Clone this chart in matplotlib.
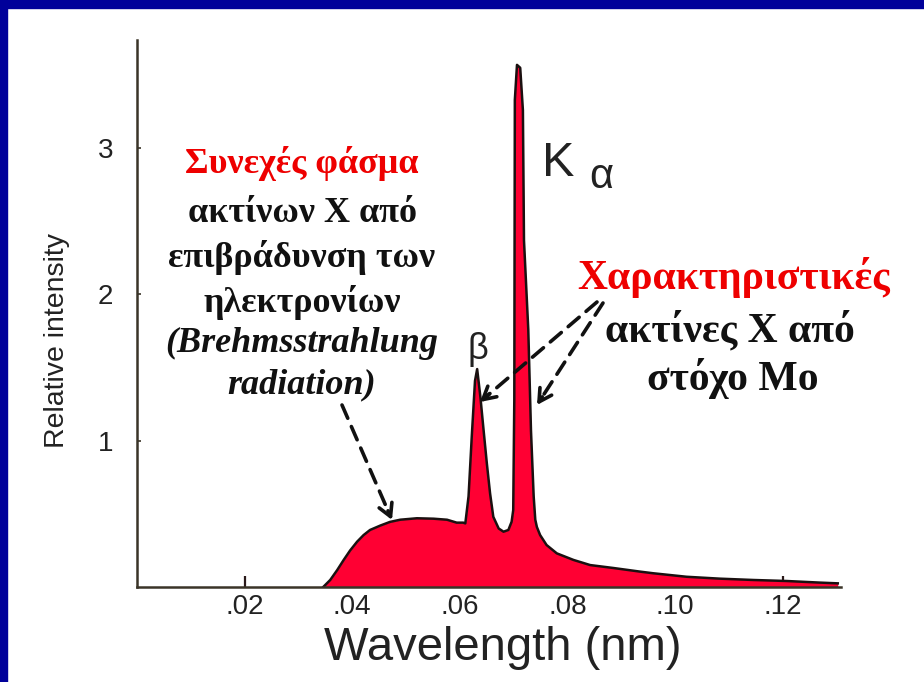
import matplotlib
matplotlib.use("Agg")
import matplotlib.pyplot as plt
from matplotlib.patches import Rectangle

# Mo target X-ray spectrum
wavelength = [0.0346, 0.0359, 0.0372, 0.0384, 0.0396, 0.0409, 0.0421, 0.0433,
              0.0452, 0.0470, 0.0489, 0.0520, 0.0551, 0.0576, 0.0594, 0.0606,
              0.0610, 0.0616, 0.0622, 0.0628, 0.0632, 0.0638, 0.0644, 0.0650,
              0.0656, 0.0662, 0.0672, 0.0681, 0.0690, 0.0696, 0.0699, 0.0701,
              0.0702, 0.0706, 0.0712, 0.0717, 0.0719, 0.0727, 0.0732, 0.0737,
              0.0740, 0.0743, 0.0749, 0.0761, 0.0780, 0.0811, 0.0842, 0.0885,
              0.0935, 0.0959, 0.1021, 0.1083, 0.1145, 0.1207, 0.1269, 0.1302]
intensity = [0.0, 0.048, 0.116, 0.185, 0.25, 0.31, 0.355, 0.39,
             0.42, 0.445, 0.46, 0.47, 0.467, 0.46, 0.44, 0.44,
             0.435, 0.62, 1.03, 1.41, 1.49, 1.30, 1.07, 0.845,
             0.64, 0.48, 0.40, 0.378, 0.39, 0.446, 0.526, 1.28,
             3.33, 3.57, 3.55, 3.26, 2.37, 1.76, 1.07, 0.62,
             0.46, 0.41, 0.355, 0.287, 0.23, 0.185, 0.15, 0.13,
             0.105, 0.094, 0.07, 0.057, 0.048, 0.041, 0.03, 0.025]

xticks = [0.02, 0.04, 0.06, 0.08, 0.10, 0.12]
xtick_labels = ['.02', '.04', '.06', '.08', '.10', '.12']
yticks = [1, 2, 3]

left_lines = ['Συνεχές φάσμα', 'ακτίνων Χ από', 'επιβράδυνση των',
              'ηλεκτρονίων', '(Brehmsstrahlung', 'radiation)']
right_lines = ['Χαρακτηριστικές', 'ακτίνες Χ από', 'στόχο Μο']

W, H = 924, 682
fig = plt.figure(figsize=(W / 100, H / 100), dpi=100)
fig.patch.set_facecolor('white')


def fx(px):
    return px / W


def fy(py):
    return 1 - py / H


# navy frame on top and left
navy = '#00009a'
fig.patches.append(Rectangle((0, fy(8)), 1, 8 / H, transform=fig.transFigure,
                             color=navy, zorder=0))
fig.patches.append(Rectangle((0, 0), 7 / W, 1, transform=fig.transFigure,
                             color=navy, zorder=0))

ax = fig.add_axes([fx(137), fy(587), fx(841) - fx(137), fy(40) - fy(587)])
ax.set_xlim(0, 0.1308)
ax.set_ylim(0, 3.74)

ax.fill_between(wavelength, intensity, color='#ff0033', lw=0, zorder=2)
ax.plot(wavelength, intensity, color='#1a1010', lw=1.8, zorder=3,
        solid_joinstyle='round')

for side in ['top', 'right']:
    ax.spines[side].set_visible(False)
for side in ['left', 'bottom']:
    ax.spines[side].set_color('#3a3428')
    ax.spines[side].set_linewidth(1.8)
    ax.spines[side].set_zorder(4)

sans = 'Liberation Sans'
ax.set_xticks(xticks)
ax.set_xticklabels(xtick_labels, fontname=sans, fontsize=20, color='#222222')
ax.set_yticks(yticks)
ax.set_yticklabels([str(v) for v in yticks], fontname=sans, fontsize=20,
                   color='#222222')
ax.tick_params(axis='x', direction='in', length=8, width=1.6, pad=5,
               color='#2a1a1a')
ax.tick_params(axis='y', direction='in', length=3, width=1.2, pad=17,
               color='#3a3428')

fig.text(fx(57), fy(341), 'Relative intensity', rotation=90, ha='center',
         va='center', fontname=sans, fontsize=20.5, color='#222222')
fig.text(fx(503), fy(648), 'Wavelength (nm)', ha='center', va='center',
         fontname=sans, fontsize=34, color='#222222')

# peak labels
fig.text(fx(542), fy(176), 'K', ha='left', va='baseline', fontname=sans,
         fontsize=35, color='#222222')
fig.text(fx(589), fy(188), 'α', ha='left', va='baseline', fontname=sans,
         fontsize=30, color='#222222')
fig.text(fx(478), fy(359), 'β', ha='center', va='baseline', fontname=sans,
         fontsize=26, color='#222222')

# annotation blocks
serif = 'Liberation Serif'
left_base = [173, 222, 267, 312, 352, 393]
for i, (txt, b) in enumerate(zip(left_lines, left_base)):
    fig.text(fx(302), fy(b), txt, ha='center', va='baseline', fontname=serif,
             fontsize=26, fontweight='bold',
             fontstyle='italic' if i >= 4 else 'normal',
             color='#ee0000' if i == 0 else '#111111')

right_base = [289, 341, 390]
right_x = [734, 730, 733]
for i, (txt, b, cx) in enumerate(zip(right_lines, right_base, right_x)):
    fig.text(fx(cx), fy(b), txt, ha='center', va='baseline', fontname=serif,
             fontsize=30, fontweight='bold',
             color='#ee0000' if i == 0 else '#111111')

# dashed arrows: (start, tip) in pixels
arrows = [((342, 405), (392, 520)),
          ((597, 302), (480, 402)),
          ((603, 303), (537, 405))]
for (x0, y0), (x1, y1) in arrows:
    ax.annotate('', xy=(fx(x1), fy(y1)), xytext=(fx(x0), fy(y0)),
                xycoords='figure fraction', textcoords='figure fraction',
                arrowprops=dict(arrowstyle='-', lw=2.6, ls=(0, (4, 2.5)),
                                color='#111111', shrinkA=0, shrinkB=3))
    dx, dy = x1 - x0, y1 - y0
    ax.annotate('', xy=(fx(x1), fy(y1)),
                xytext=(fx(x1 - dx * 0.08), fy(y1 - dy * 0.08)),
                xycoords='figure fraction', textcoords='figure fraction',
                arrowprops=dict(arrowstyle='->,head_length=0.9,head_width=0.5',
                                lw=2.6, color='#111111', shrinkA=0, shrinkB=0))

fig.savefig('out.png', dpi=100)
